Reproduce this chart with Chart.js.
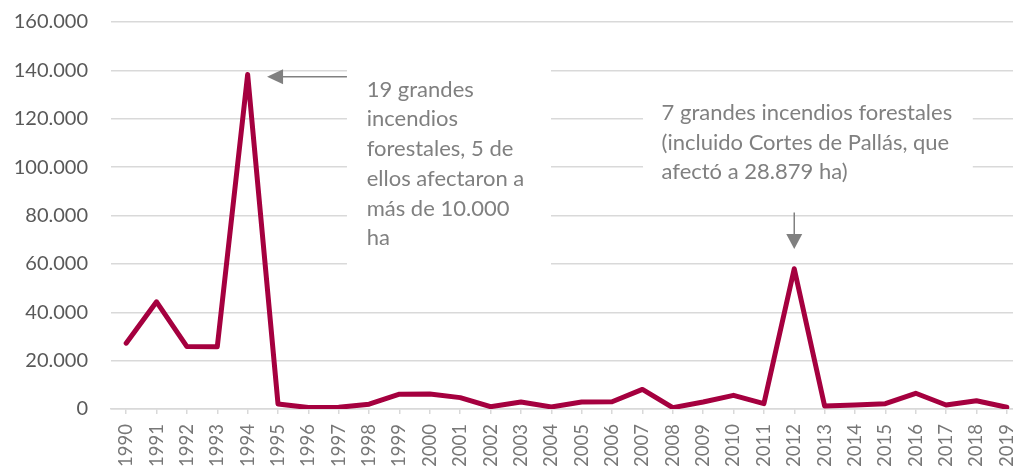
<!DOCTYPE html>
<html>
<head>
<meta charset="utf-8">
<script src="https://cdn.jsdelivr.net/npm/chart.js@4.4.1/dist/chart.umd.min.js"></script>
<style>
  html, body { margin: 0; padding: 0; background: #fff; overflow: hidden; }
  #wrap { width: 1013px; height: 466px; overflow: hidden; position: relative; }
  #box { width: 1040px; height: 493px; margin-top: -13px; }
</style>
</head>
<body>
<div id="wrap"><div id="box"><canvas id="chart"></canvas></div></div>
<script>
// superficie quemada (ha) por año
const years = ['1990','1991','1992','1993','1994','1995','1996','1997','1998','1999',
               '2000','2001','2002','2003','2004','2005','2006','2007','2008','2009',
               '2010','2011','2012','2013','2014','2015','2016','2017','2018','2019'];
const hectares = [27200, 44300, 25800, 25700, 138300, 2100, 600, 700, 2000, 6100,
                  6200, 4700, 950, 2900, 850, 2900, 3000, 8100, 550, 2900,
                  5650, 2200, 58000, 1250, 1650, 2200, 6500, 1650, 3400, 700];
const yTicks = [0, 20000, 40000, 60000, 80000, 100000, 120000, 140000, 160000];

const note1Lines = ['19 grandes', 'incendios', 'forestales, 5 de', 'ellos afectaron a', 'más de 10.000', 'ha'];
const note2Lines = ['7 grandes incendios forestales', '(incluido Cortes de Pallás, que', 'afectó a 28.879 ha)'];

const lineColor = '#A5003F';
const gridColor = '#d9d9d9';
const noteColor = '#808080';

function fmt(v) {
    return String(v).replace(/\B(?=(\d{3})+(?!\d))/g, '.');
}

// cajas de texto y flechas (en unidades de los ejes)
const notes = {
    box1: { x0: 7.27, x1: 13.99, yTop: 148000, yBot: 53000 },
    text1: { x: 7.92, y: 129100 },
    arrow1: { xFrom: 7.27, xTo: 4.64, y: 137400 },
    box2: { x0: 17.02, x1: 27.88, yTop: 131000, yBot: 88500 },
    text2: { x: 17.63, y: 119500 },
    arrow2: { x: 22, yFrom: 81200, yTo: 66100 }
};

const notesPlugin = {
    id: 'notes',
    beforeDatasetsDraw(chart) {
        const ctx = chart.ctx;
        const xs = chart.scales.x, ys = chart.scales.y;
        const X = v => xs.getPixelForValue(v);
        const Y = v => ys.getPixelForValue(v);
        ctx.save();
        ctx.fillStyle = '#fff';
        [notes.box1, notes.box2].forEach(b => {
            ctx.fillRect(X(b.x0), Y(b.yTop), X(b.x1) - X(b.x0), Y(b.yBot) - Y(b.yTop));
        });
        ctx.fillStyle = noteColor;
        ctx.font = '22px Lato';
        ctx.textBaseline = 'alphabetic';
        const lh = 29.7;
        note1Lines.forEach((t, i) => ctx.fillText(t, X(notes.text1.x), Y(notes.text1.y) + i * lh));
        note2Lines.forEach((t, i) => ctx.fillText(t, X(notes.text2.x), Y(notes.text2.y) + i * lh));

        // flechas
        ctx.strokeStyle = noteColor;
        ctx.lineWidth = 1.5;
        let a = notes.arrow1;
        let ax0 = X(a.xFrom), ax1 = X(a.xTo), ay = Y(a.y);
        ctx.beginPath();
        ctx.moveTo(ax0, ay); ctx.lineTo(ax1 + 15, ay);
        ctx.stroke();
        ctx.beginPath();
        ctx.moveTo(ax1, ay); ctx.lineTo(ax1 + 16, ay - 7.5); ctx.lineTo(ax1 + 16, ay + 7.5);
        ctx.closePath(); ctx.fill();

        let b = notes.arrow2;
        let bx = X(b.x), by0 = Y(b.yFrom), by1 = Y(b.yTo);
        ctx.beginPath();
        ctx.moveTo(bx, by0); ctx.lineTo(bx, by1 - 14);
        ctx.stroke();
        ctx.beginPath();
        ctx.moveTo(bx, by1); ctx.lineTo(bx - 8, by1 - 15); ctx.lineTo(bx + 8, by1 - 15);
        ctx.closePath(); ctx.fill();
        ctx.restore();
    }
};

new Chart(document.getElementById('chart'), {
    type: 'line',
    data: {
        labels: years,
        datasets: [{
            data: hectares,
            borderColor: lineColor,
            borderWidth: 5,
            borderJoinStyle: 'round',
            borderCapStyle: 'round',
            pointRadius: 0,
            tension: 0,
            fill: false
        }]
    },
    options: {
        responsive: true,
        maintainAspectRatio: false,
        animation: false,
        layout: { padding: { left: 0, top: 9, right: 18, bottom: 0 } },
        plugins: { legend: { display: false }, tooltip: { enabled: false } },
        scales: {
            x: {
                offset: true,
                grid: { offset: false, drawOnChartArea: false, drawTicks: true, tickLength: 5, color: gridColor, lineWidth: 1.5 },
                border: { display: true, color: gridColor, width: 1.5 },
                ticks: {
                    autoSkip: false, minRotation: 90, maxRotation: 90, padding: 10,
                    color: '#777777', font: { family: 'Lato', size: 18.5 }
                },
                afterFit(scale) { scale.height = 71; }
            },
            y: {
                min: 0, max: 160000,
                afterBuildTicks(scale) { scale.ticks = yTicks.map(v => ({ value: v })); },
                grid: { color: gridColor, lineWidth: 1.5, drawTicks: false },
                border: { display: false },
                ticks: {
                    padding: 23, color: '#595959',
                    font: { family: 'Lato', size: 20 },
                    callback: v => fmt(v)
                },
                afterFit(scale) { scale.width = 111; }
            }
        }
    },
    plugins: [notesPlugin]
});
</script>
</body>
</html>
